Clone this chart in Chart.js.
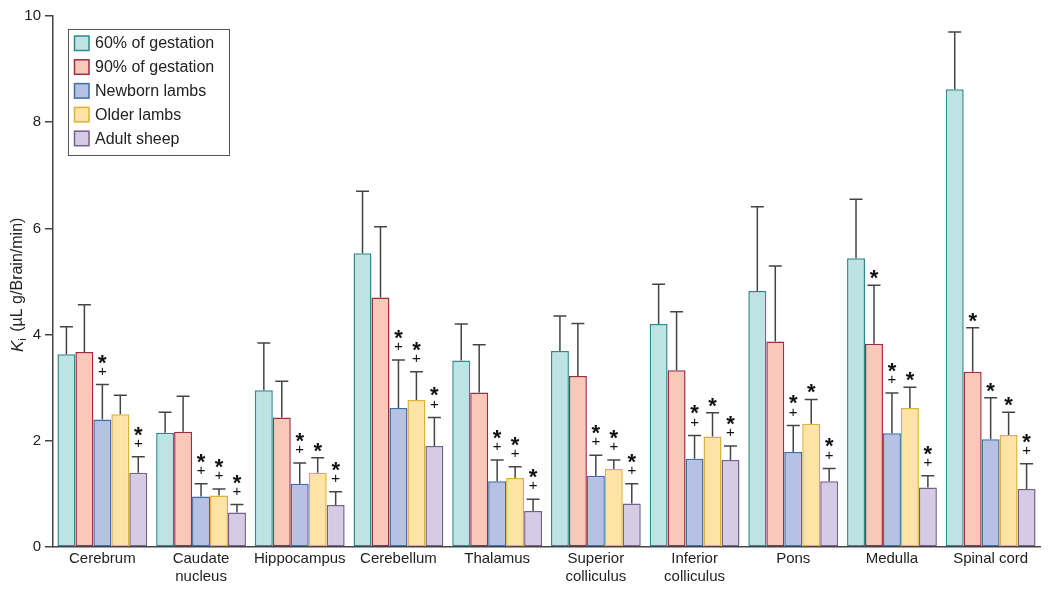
<!DOCTYPE html>
<html>
<head>
<meta charset="utf-8">
<script src="https://cdn.jsdelivr.net/npm/chart.js@4"></script>
<style>
  html, body { margin: 0; padding: 0; background: #fff; }
  #wrap { width: 1050px; height: 591px; }
</style>
</head>
<body>
<div id="wrap"><canvas id="bar" width="1050" height="591"></canvas></div>
<script>
const categories = ['Cerebrum', ['Caudate', 'nucleus'], 'Hippocampus', 'Cerebellum', 'Thalamus',
    ['Superior', 'colliculus'], ['Inferior', 'colliculus'], 'Pons', 'Medulla', 'Spinal cord'];
const seriesNames = ['60% of gestation', '90% of gestation', 'Newborn lambs', 'Older lambs', 'Adult sheep'];

// mean Ki values and upper SD
const ges60 = [3.63, 2.15, 2.95, 5.53, 3.51, 3.69, 4.20, 4.82, 5.44, 8.62];
const ges60Sd = [0.52, 0.39, 0.89, 1.17, 0.69, 0.66, 0.75, 1.59, 1.11, 1.08];
const ges90 = [3.67, 2.17, 2.44, 4.70, 2.91, 3.22, 3.33, 3.87, 3.83, 3.30];
const ges90Sd = [0.89, 0.67, 0.68, 1.33, 0.90, 0.99, 1.10, 1.42, 1.10, 0.83];
const newborn = [2.40, 0.95, 1.19, 2.62, 1.24, 1.34, 1.66, 1.79, 2.14, 2.03];
const newbornSd = [0.66, 0.24, 0.39, 0.90, 0.40, 0.39, 0.44, 0.50, 0.76, 0.78];
const older = [2.50, 0.97, 1.40, 2.77, 1.30, 1.47, 2.08, 2.32, 2.62, 2.11];
const olderSd = [0.36, 0.12, 0.28, 0.53, 0.21, 0.17, 0.45, 0.46, 0.39, 0.43];
const adult = [1.40, 0.65, 0.79, 1.90, 0.68, 0.82, 1.64, 1.24, 1.12, 1.09];
const adultSd = [0.30, 0.15, 0.25, 0.54, 0.22, 0.37, 0.26, 0.24, 0.22, 0.48];

// significance marks: * and +
const ges60Marks = ['', '', '', '', '', '', '', '', '', ''];
const ges90Marks = ['', '', '', '', '', '', '', '', '*', '*'];
const newbornMarks = ['*+', '*+', '*+', '*+', '*+', '*+', '*+', '*+', '*+', '*'];
const olderMarks = ['', '*+', '*', '*+', '*+', '*+', '*', '*', '*', '*'];
const adultMarks = ['*+', '*+', '*+', '*+', '*+', '*+', '*+', '*+', '*+', '*+'];

const yTicks = [0, 2, 4, 6, 8, 10];

const fills = ['#bde4e3', '#f9c8b8', '#b7c1e3', '#fee3a6', '#d5cbe5'];
const borders = ['#2e8b8d', '#9f2d45', '#3d6ea6', '#dfb134', '#74608a'];
const FONT = '"Liberation Sans", Arial, Helvetica, sans-serif';

const values = [ges60, ges90, newborn, older, adult];
const sds = [ges60Sd, ges90Sd, newbornSd, olderSd, adultSd];
const marks = [ges60Marks, ges90Marks, newbornMarks, olderMarks, adultMarks];

const extras = {
    id: 'extras',
    afterDatasetsDraw(chart) {
        const c = chart.ctx;
        const y = chart.scales.y;
        c.save();
        // error bars + marks
        chart.data.datasets.forEach((ds, i) => {
            const meta = chart.getDatasetMeta(i);
            meta.data.forEach((bar, j) => {
                const x = bar.x;
                const top = y.getPixelForValue(values[i][j] + sds[i][j]);
                c.strokeStyle = '#444';
                c.lineWidth = 1.5;
                c.beginPath();
                c.moveTo(x, bar.y);
                c.lineTo(x, top);
                c.moveTo(x - 6.5, top);
                c.lineTo(x + 6.5, top);
                c.stroke();
                const m = marks[i][j];
                c.fillStyle = '#111';
                c.textAlign = 'center';
                if (m === '*+') {
                    c.font = '15px ' + FONT;
                    c.textBaseline = 'middle';
                    c.fillText('+', x, top - 13);
                    c.font = 'bold 22px ' + FONT;
                    c.textBaseline = 'alphabetic';
                    c.fillText('*', x, top - 28 + 13);
                } else if (m === '*') {
                    c.font = 'bold 22px ' + FONT;
                    c.textBaseline = 'alphabetic';
                    c.fillText('*', x, top - 13 + 13);
                }
            });
        });

        // y axis title with subscript
        c.translate(18, 352);
        c.rotate(-Math.PI / 2);
        c.fillStyle = '#222';
        c.textAlign = 'left';
        c.textBaseline = 'middle';
        c.font = 'italic 17px ' + FONT;
        c.fillText('K', 0, 0);
        let off = c.measureText('K').width;
        c.font = '11px ' + FONT;
        c.fillText('i', off, 5);
        off += c.measureText('i').width + 2;
        c.font = '16px ' + FONT;
        c.fillText(' (\u00b5L g/Brain/min)', off, 0);
        c.restore();

        // legend
        c.save();
        c.fillStyle = '#fff';
        c.fillRect(68, 29, 161, 126);
        c.strokeStyle = '#555';
        c.lineWidth = 1;
        c.strokeRect(68.5, 29.5, 161, 126);
        seriesNames.forEach((name, i) => {
            const cy = 43 + i * 23.8;
            c.fillStyle = fills[i];
            c.fillRect(74, cy - 7.5, 15, 15);
            c.strokeStyle = borders[i];
            c.lineWidth = 1.5;
            c.strokeRect(74.5, cy - 7, 14.5, 14.5);
            c.fillStyle = '#222';
            c.font = '16px ' + FONT;
            c.textAlign = 'left';
            c.textBaseline = 'middle';
            c.fillText(name, 95, cy + 1);
        });
        c.restore();
    }
};

new Chart(document.getElementById('bar').getContext('2d'), {
    type: 'bar',
    data: {
        labels: categories,
        datasets: seriesNames.map((name, i) => ({
            label: name,
            data: values[i],
            backgroundColor: fills[i],
            borderColor: borders[i],
            borderWidth: 1.5,
            borderSkipped: false,
            categoryPercentage: 0.91,
            barPercentage: 1.0
        }))
    },
    options: {
        responsive: false,
        animation: false,
        layout: { padding: { top: 16, right: 10, bottom: 0, left: 0 } },
        plugins: {
            legend: { display: false },
            tooltip: { enabled: false }
        },
        scales: {
            x: {
                afterFit: s => { s.height = 44; },
                grid: { display: false, drawTicks: false },
                border: { color: '#444', width: 1.5 },
                ticks: { color: '#222', font: { family: FONT, size: 15, lineHeight: 1.25 }, padding: 2, maxRotation: 0, autoSkip: false }
            },
            y: {
                min: 0,
                max: 10,
                afterBuildTicks: s => { s.ticks = yTicks.map(v => ({ value: v })); },
                afterFit: s => { s.width = 53; },
                grid: { drawOnChartArea: false, drawTicks: true, tickLength: 8, color: '#444', lineWidth: 1.5 },
                border: { color: '#444', width: 1.5 },
                ticks: { color: '#222', font: { family: FONT, size: 15 }, padding: 4 }
            }
        }
    },
    plugins: [extras]
});
</script>
</body>
</html>
